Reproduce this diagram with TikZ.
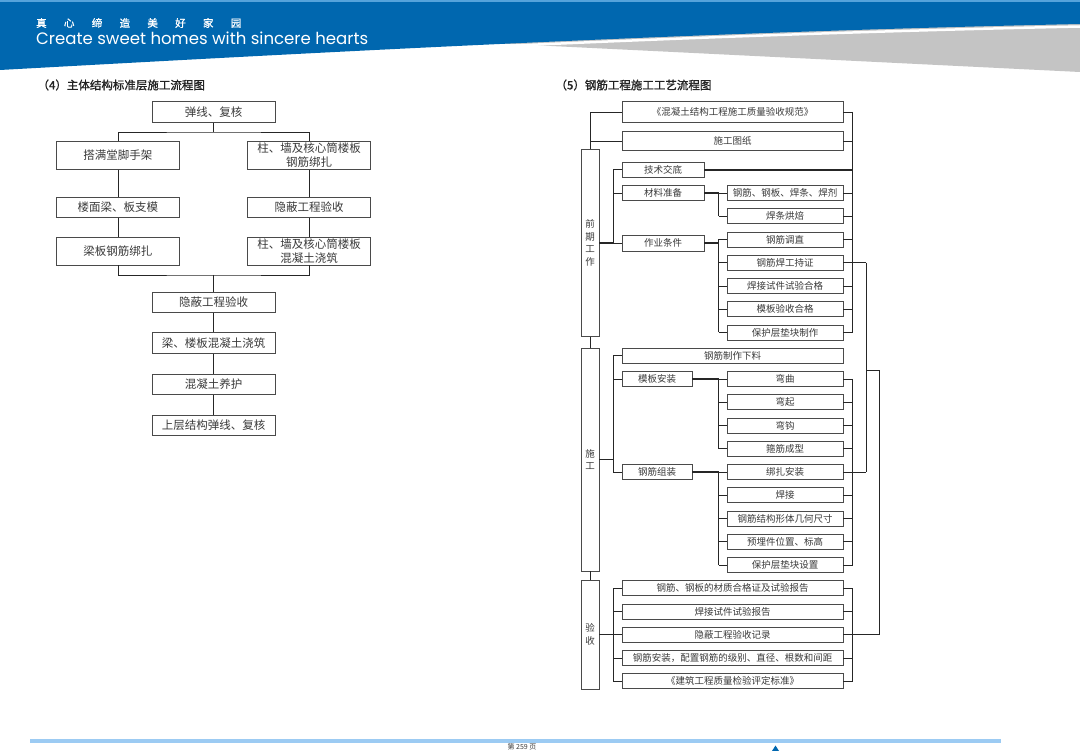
\documentclass[tikz,border=0pt]{standalone}
\usepackage{fontspec}
\newfontfamily\cjk{Noto Sans CJK SC}
\newfontfamily\cjkb[FakeBold=1.2]{Noto Sans CJK SC}
\newfontfamily\pop{Poppins}
\definecolor{hblue}{HTML}{0067AF}
\definecolor{hlight}{HTML}{55A3DB}
\definecolor{hgray}{HTML}{C4C4C4}
\definecolor{flblue}{HTML}{9CCBF3}
\definecolor{txt}{HTML}{3A3A3A}
\definecolor{ttl}{HTML}{222222}
\definecolor{boxc}{HTML}{4A4A4A}
\definecolor{linec}{HTML}{262626}
\begin{document}
\begin{tikzpicture}[x=1pt,y=-1pt,
  lbox/.style={draw=boxc, line width=0.8pt, fill=white, inner sep=0pt, align=center, text=txt,
    font=\cjk\fontsize{11.5}{13.8}\selectfont, minimum width=123pt},
  rbox/.style={draw=boxc, line width=0.8pt, fill=white, inner sep=0pt, align=center, text=txt,
    font=\cjk\fontsize{9.5}{12}\selectfont, minimum height=15pt},
  vbox/.style={draw=boxc, line width=0.8pt, fill=white, inner sep=0pt, align=center, text=txt,
    font=\cjk\fontsize{9.5}{12.5}\selectfont, minimum width=18pt},
  ln/.style={draw=linec, line width=0.8pt},
  thk/.style={draw=linec, line width=1.8pt},
  ttlf/.style={anchor=west, text=ttl, font=\cjkb\fontsize{11.5}{11.5}\selectfont}
]
\useasboundingbox (0,0) rectangle (1080,751);
\clip (0,0) rectangle (1080,751);
\fill[white] (0,0) rectangle (1080,751);

% ---------- header ----------
\fill[hgray] (470,42) -- (1080,72) -- (1080,10) -- (470,10) -- cycle;
\draw[white, line width=2.5pt] (0,72) .. controls (360,52) and (700,34.5) .. (1080,26.5);
\fill[hblue] (0,0) -- (0,70) .. controls (360,50) and (700,32) .. (1080,24) -- (1080,0) -- cycle;
\fill[hlight] (0,0) rectangle (1080,2.5);
\node[anchor=west, text=white, inner sep=0pt, font=\cjkb\fontsize{10.5}{10.5}\selectfont] (h1) at (36,23)
  {真\hspace{17.3pt}心\hspace{17.3pt}缔\hspace{17.3pt}造\hspace{17.3pt}美\hspace{17.3pt}好\hspace{17.3pt}家\hspace{17.3pt}园};
\node[anchor=west, text=white, inner sep=0pt] (h2) at (36,38)
  {\resizebox{332pt}{!}{\pop\fontsize{13}{13}\selectfont Create sweet homes with sincere hearts}};

% ---------- footer ----------
\fill[flblue] (30,739) rectangle (1001,743);
\node[anchor=north, inner sep=0pt, text=txt, font=\cjk\fontsize{7}{7}\selectfont] (pg) at (522,743.8) {第 259 页};
\fill[hblue] (772,751) -- (775.5,745.5) -- (779,751) -- cycle;

% ---------- titles ----------
\node[ttlf] (t4) at (34,85) {（4）主体结构标准层施工流程图};
\node[ttlf] (t5) at (552,85) {（5）钢筋工程施工工艺流程图};

% ---------- left chart ----------
\node[lbox, minimum height=21pt]   (a1)  at (213.7,112)   {弹线、复核};
\node[lbox, minimum height=27.5pt] (a2)  at (117.9,155.5) {搭满堂脚手架};
\node[lbox, minimum height=27.5pt] (a3)  at (309,155.5)   {柱、墙及核心筒楼板\\钢筋绑扎};
\node[lbox, minimum height=20pt]   (a4)  at (117.9,207.3) {楼面梁、板支模};
\node[lbox, minimum height=20pt]   (a5)  at (309,207.3)   {隐蔽工程验收};
\node[lbox, minimum height=27.5pt] (a6)  at (117.9,251.3) {梁板钢筋绑扎};
\node[lbox, minimum height=27.5pt] (a7)  at (309,251.3)   {柱、墙及核心筒楼板\\混凝土浇筑};
\node[lbox, minimum height=20.5pt] (a8)  at (213.7,302.2) {隐蔽工程验收};
\node[lbox, minimum height=20.5pt] (a9)  at (213.7,343)   {梁、楼板混凝土浇筑};
\node[lbox, minimum height=20.5pt] (a10) at (213.7,384.2) {混凝土养护};
\node[lbox, minimum height=20.5pt] (a11) at (213.7,425.2) {上层结构弹线、复核};

\coordinate (lt) at (213.7,132);
\coordinate (lb) at (213.7,275);
\draw[ln] (a1.south) -- (lt);
\draw[ln] (a2.north) |- (lt) -| (a3.north);
\draw[ln] (a2) -- (a4);
\draw[ln] (a4) -- (a6);
\draw[ln] (a3) -- (a5);
\draw[ln] (a5) -- (a7);
\draw[ln] (a6.south) |- (lb) -| (a7.south);
\draw[ln] (lb) -- (a8.north);
\draw[ln] (a8) -- (a9);
\draw[ln] (a9) -- (a10);
\draw[ln] (a10) -- (a11);

% ---------- right chart ----------
\node[vbox, minimum height=187pt] (qq) at (590,243)   {前\\期\\工\\作};
\node[vbox, minimum height=223pt] (sg) at (590,459.5) {施\\工};
\node[vbox, minimum height=109pt] (ys) at (590,634.5) {验\\收};

\node[rbox, minimum width=221pt, minimum height=21pt] (r1) at (732.5,112) {《混凝土结构工程施工质量验收规范》};
\node[rbox, minimum width=221pt, minimum height=19.5pt] (r2) at (732.5,141) {施工图纸};

\node[rbox, minimum width=82pt] (js) at (663,169.75) {技术交底};
\node[rbox, minimum width=82pt] (cl) at (663,193)    {材料准备};
\node[rbox, minimum width=82pt, minimum height=16pt] (zy) at (663,243) {作业条件};
\node[rbox, minimum width=116pt] (g1) at (785,193)    {钢筋、钢板、焊条、焊剂};
\node[rbox, minimum width=116pt] (g2) at (785,216.25) {焊条烘焙};
\node[rbox, minimum width=116pt] (d1) at (785,239.5)  {钢筋调直};
\node[rbox, minimum width=116pt] (d2) at (785,262.75) {钢筋焊工持证};
\node[rbox, minimum width=116pt] (d3) at (785,286)    {焊接试件试验合格};
\node[rbox, minimum width=116pt] (d4) at (785,309.25) {模板验收合格};
\node[rbox, minimum width=116pt] (d5) at (785,332.5)  {保护层垫块制作};

\node[rbox, minimum width=221pt] (xl) at (732.5,355.75) {钢筋制作下料};
\node[rbox, minimum width=70pt]  (mb) at (657,379)    {模板安装};
\node[rbox, minimum width=70pt]  (zz) at (657,472)    {钢筋组装};
\node[rbox, minimum width=116pt] (w1) at (785,379)    {弯曲};
\node[rbox, minimum width=116pt] (w2) at (785,402.25) {弯起};
\node[rbox, minimum width=116pt] (w3) at (785,425.5)  {弯钩};
\node[rbox, minimum width=116pt] (w4) at (785,448.75) {箍筋成型};
\node[rbox, minimum width=116pt] (k1) at (785,472)    {绑扎安装};
\node[rbox, minimum width=116pt] (k2) at (785,495.25) {焊接};
\node[rbox, minimum width=116pt] (k3) at (785,518.5)  {钢筋结构形体几何尺寸};
\node[rbox, minimum width=116pt] (k4) at (785,541.75) {预埋件位置、标高};
\node[rbox, minimum width=116pt] (k5) at (785,565)    {保护层垫块设置};

\node[rbox, minimum width=221pt] (v1) at (732.5,588.25) {钢筋、钢板的材质合格证及试验报告};
\node[rbox, minimum width=221pt] (v2) at (732.5,611.5)  {焊接试件试验报告};
\node[rbox, minimum width=221pt] (v3) at (732.5,634.75) {隐蔽工程验收记录};
\node[rbox, minimum width=221pt] (v4) at (732.5,658)    {钢筋安装，配置钢筋的级别、直径、根数和间距};
\node[rbox, minimum width=221pt] (v5) at (732.5,681.25) {《建筑工程质量检验评定标准》};

\coordinate (bA) at (613,0);
\coordinate (bM) at (718.5,0);
\coordinate (bR) at (852.5,0);
\coordinate (bC) at (866,0);
\coordinate (j1) at (866,370);
\coordinate (j2) at (879,370);

\draw[ln] (qq.north) |- (r1.west);
\draw[ln] (r2.west -| qq.north) -- (r2.west);
\draw[ln] (qq.south) -- (sg.north);
\draw[ln] (sg.south) -- (ys.north);

\draw[thk] (qq.east |- zy.west) -- (zy.west -| bA);
\draw[ln] (js.west -| bA) -- (zy.west -| bA);
\foreach \n in {js,cl,zy} \draw[ln] (\n.west -| bA) -- (\n.west);

\draw[thk] (cl.east) -- (cl.east -| bM);
\draw[ln] (g1.west -| bM) -- (g2.west -| bM);
\draw[thk] (zy.east) -- (zy.east -| bM);
\draw[ln] (d1.west -| bM) -- (d5.west -| bM);
\foreach \n in {g1,g2,d1,d2,d3,d4,d5} \draw[ln] (\n.west -| bM) -- (\n.west);

\draw[ln] (r1.east -| bR) -- (d5.east -| bR);
\foreach \n in {r1,r2,g1,g2,d1,d3,d4,d5} \draw[ln] (\n.east) -- (\n.east -| bR);
\draw[thk] (js.east) -- (js.east -| bR);

\draw[thk] (sg.east) -- (sg.east -| bA);
\draw[ln] (xl.west -| bA) -- (zz.west -| bA);
\foreach \n in {xl,mb,zz} \draw[ln] (\n.west -| bA) -- (\n.west);
\draw[thk] (mb.east) -- (mb.east -| bM);
\draw[ln] (w1.west -| bM) -- (w4.west -| bM);
\draw[thk] (zz.east) -- (zz.east -| bM);
\draw[ln] (k1.west -| bM) -- (k5.west -| bM);
\foreach \n in {w1,w2,w3,w4,k1,k2,k3,k4,k5} \draw[ln] (\n.west -| bM) -- (\n.west);

\draw[ln] (w1.east -| bR) -- (k5.east -| bR);
\foreach \n in {w1,w2,w3,w4,k2,k3,k4,k5} \draw[ln] (\n.east) -- (\n.east -| bR);

\draw[ln] (d2.east) -- (d2.east -| bC);
\draw[ln] (d2.east -| bC) -- (k1.east -| bC);
\draw[ln] (k1.east) -- (k1.east -| bC);
\draw[ln] (j1) -- (j2) |- (v3.east);

\draw[thk] (ys.east) -- (ys.east -| bA);
\draw[ln] (v1.west -| bA) -- (v5.west -| bA);
\foreach \n in {v1,v2,v3,v4,v5} \draw[ln] (\n.west -| bA) -- (\n.west);
\draw[ln] (v1.east -| bR) -- (v5.east -| bR);
\foreach \n in {v1,v2,v4,v5} \draw[ln] (\n.east) -- (\n.east -| bR);
\end{tikzpicture}
\end{document}
